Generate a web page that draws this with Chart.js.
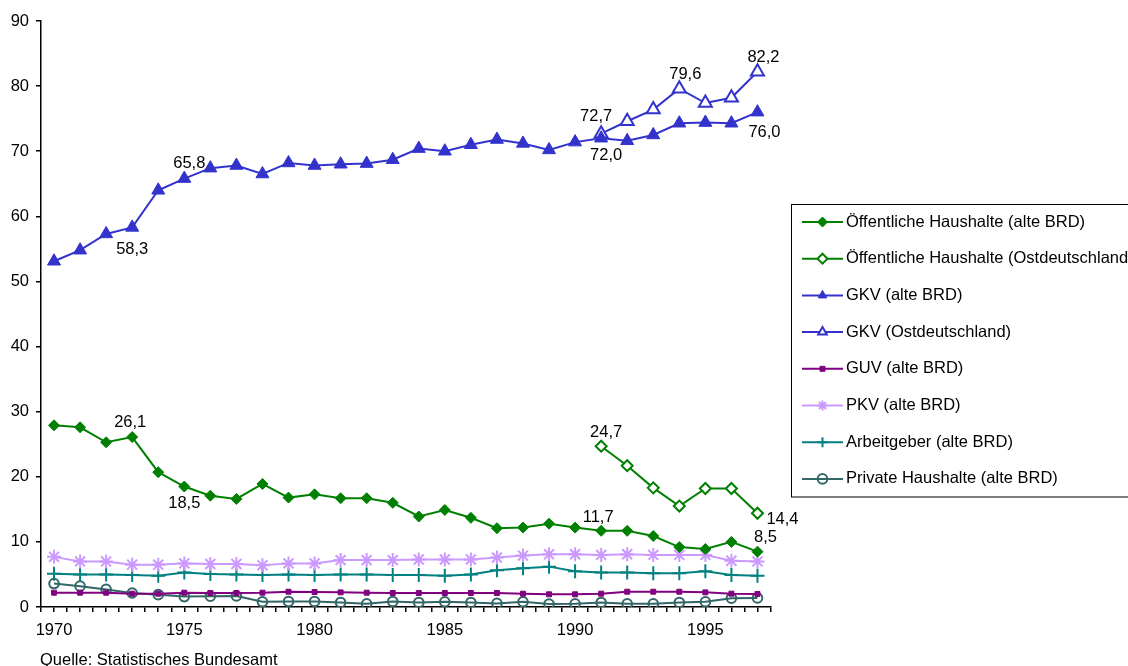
<!DOCTYPE html>
<html lang="de">
<head>
<meta charset="utf-8">
<title>Gesundheitsausgaben nach Ausgabenträgern</title>
<script src="https://cdn.jsdelivr.net/npm/chart.js@4.4.1/dist/chart.umd.min.js"></script>
<style>
  html, body { margin: 0; padding: 0; background: #ffffff; }
  #wrap { position: relative; width: 1128px; height: 666px; }
</style>
</head>
<body>
<div id="wrap"><canvas id="chart" width="1128" height="666"></canvas></div>
<script>
// Jahre (alte BRD) und Jahre (Ostdeutschland)
const years = [1970, 1971, 1972, 1973, 1974, 1975, 1976, 1977, 1978, 1979,
               1980, 1981, 1982, 1983, 1984, 1985, 1986, 1987, 1988, 1989,
               1990, 1991, 1992, 1993, 1994, 1995, 1996, 1997];
const ostYears = [1991, 1992, 1993, 1994, 1995, 1996, 1997];

// Anteile in Prozent
const oeffWest = [27.9, 27.6, 25.3, 26.1, 20.7, 18.5, 17.1, 16.6, 18.9, 16.8,
                  17.3, 16.7, 16.7, 16.0, 13.9, 14.9, 13.7, 12.1, 12.2, 12.8,
                  12.2, 11.7, 11.7, 10.9, 9.2, 8.9, 10.0, 8.5];
const oeffOst = [24.7, 21.7, 18.3, 15.5, 18.2, 18.2, 14.4];
const gkvWest = [53.1, 54.8, 57.3, 58.3, 64.0, 65.8, 67.4, 67.8, 66.5, 68.2,
                 67.8, 68.0, 68.1, 68.7, 70.4, 70.0, 71.0, 71.8, 71.2, 70.2,
                 71.4, 72.0, 71.6, 72.5, 74.3, 74.4, 74.3, 76.0];
const gkvOst = [72.7, 74.6, 76.4, 79.6, 77.4, 78.2, 82.2];
const guvWest = [2.2, 2.2, 2.2, 2.05, 2.05, 2.2, 2.15, 2.15, 2.2, 2.35,
                 2.3, 2.25, 2.2, 2.15, 2.15, 2.15, 2.15, 2.15, 2.05, 1.95,
                 1.95, 2.05, 2.35, 2.35, 2.35, 2.25, 2.05, 2.0];
const pkvWest = [7.7, 7.0, 7.0, 6.5, 6.5, 6.7, 6.6, 6.6, 6.4, 6.7,
                 6.7, 7.2, 7.2, 7.2, 7.3, 7.3, 7.3, 7.6, 7.9, 8.1,
                 8.1, 8.0, 8.1, 8.0, 8.0, 8.0, 7.1, 7.0];
const arbeitgeberWest = [5.1, 5.0, 5.0, 4.9, 4.8, 5.3, 5.05, 5.0, 4.9, 5.0,
                         4.9, 5.0, 5.0, 4.9, 4.9, 4.8, 5.0, 5.65, 5.95, 6.2,
                         5.5, 5.3, 5.3, 5.2, 5.2, 5.5, 4.9, 4.8];
const privatWest = [3.6, 3.2, 2.7, 2.15, 1.9, 1.6, 1.65, 1.7, 0.8, 0.85,
                    0.85, 0.7, 0.5, 0.85, 0.7, 0.8, 0.7, 0.55, 0.8, 0.45,
                    0.5, 0.7, 0.5, 0.5, 0.7, 0.8, 1.35, 1.4];

const seriesNames = [
  'Öffentliche Haushalte (alte BRD)',
  'Öffentliche Haushalte (Ostdeutschland)',
  'GKV (alte BRD)',
  'GKV (Ostdeutschland)',
  'GUV (alte BRD)',
  'PKV (alte BRD)',
  'Arbeitgeber (alte BRD)',
  'Private Haushalte (alte BRD)'
];

const yTicks = [0, 10, 20, 30, 40, 50, 60, 70, 80, 90];
const xLabelYears = [1970, 1975, 1980, 1985, 1990, 1995];

// Beschriftete Punkte: Reihe, Jahr, Versatz der Beschriftung
const valueLabels = [
  { ds: 2, year: 1973, dx: 0,  dy: 22 },
  { ds: 2, year: 1975, dx: 5,  dy: -15 },
  { ds: 3, year: 1991, dx: -5, dy: -17 },
  { ds: 2, year: 1991, dx: 5,  dy: 17 },
  { ds: 3, year: 1994, dx: 6,  dy: -14 },
  { ds: 3, year: 1997, dx: 6,  dy: -14 },
  { ds: 2, year: 1997, dx: 7,  dy: 20 },
  { ds: 0, year: 1973, dx: -2, dy: -15 },
  { ds: 0, year: 1975, dx: 0,  dy: 17 },
  { ds: 1, year: 1991, dx: 5,  dy: -14 },
  { ds: 0, year: 1991, dx: -3, dy: -13 },
  { ds: 1, year: 1997, dx: 25, dy: 6 },
  { ds: 0, year: 1997, dx: 8,  dy: -14 }
];

const FONT = '"Liberation Sans", Arial, sans-serif';
const FONT_SIZE = 16.5;

function toPoints(xs, ys) {
  return xs.map((x, i) => ({ x: x, y: ys[i] }));
}

function series(label, xs, ys, color, style) {
  return Object.assign({
    label: label,
    data: toPoints(xs, ys),
    borderColor: color,
    backgroundColor: color,
    borderWidth: 2,
    pointBorderColor: color,
    pointBackgroundColor: color,
    pointBorderWidth: 1,
    pointHoverRadius: 0,
    tension: 0,
    fill: false
  }, style);
}

const datasets = [
  series(seriesNames[0], years, oeffWest, '#008000', { pointStyle: 'rectRot', pointRadius: 5.5 }),
  series(seriesNames[1], ostYears, oeffOst, '#008000', { pointStyle: 'rectRot', pointRadius: 5.5, pointBackgroundColor: '#ffffff', pointBorderWidth: 2 }),
  series(seriesNames[2], years, gkvWest, '#3333CC', { pointStyle: 'triangle', pointRadius: 7.5 }),
  series(seriesNames[3], ostYears, gkvOst, '#3333CC', { pointStyle: 'triangle', pointRadius: 7.5, pointBackgroundColor: '#ffffff', pointBorderWidth: 2 }),
  series(seriesNames[4], years, guvWest, '#800080', { pointStyle: 'rect', pointRadius: 3.5 }),
  series(seriesNames[5], years, pkvWest, '#CC99FF', { pointStyle: 'star', pointRadius: 7, pointBorderWidth: 2 }),
  series(seriesNames[6], years, arbeitgeberWest, '#008080', { pointStyle: 'cross', pointRadius: 7, pointBorderWidth: 2 }),
  series(seriesNames[7], years, privatWest, '#336666', { pointStyle: 'circle', pointRadius: 4.8, pointBackgroundColor: 'rgba(0,0,0,0)', pointBorderWidth: 2 })
];

function fmt(v) {
  return v.toFixed(1).replace('.', ',');
}

// Werte an ausgewählten Punkten
const valueLabelPlugin = {
  id: 'valueLabels',
  afterDatasetsDraw(chart) {
    const ctx = chart.ctx;
    const xs = chart.scales.x, ys = chart.scales.y;
    ctx.save();
    ctx.font = FONT_SIZE + 'px ' + FONT;
    ctx.fillStyle = '#000000';
    ctx.textAlign = 'center';
    ctx.textBaseline = 'middle';
    valueLabels.forEach(l => {
      const pt = chart.data.datasets[l.ds].data.find(p => p.x === l.year);
      if (!pt) return;
      const px = xs.getPixelForValue(pt.x);
      const py = ys.getPixelForValue(pt.y);
      ctx.fillText(fmt(pt.y), px + l.dx, py + l.dy);
    });
    ctx.restore();
  }
};

// Legende im Rahmen rechts und Quellenangabe
const sideLegendPlugin = {
  id: 'sideLegend',
  afterDraw(chart) {
    const ctx = chart.ctx;
    const boxX = 791.5, boxY = 204.5, boxH = 292.5;
    ctx.save();
    ctx.strokeStyle = '#000000';
    ctx.lineWidth = 1;
    ctx.strokeRect(boxX, boxY, 400, boxH);

    ctx.font = FONT_SIZE + 'px ' + FONT;
    ctx.textBaseline = 'middle';
    ctx.textAlign = 'left';
    chart.data.datasets.forEach((ds, i) => {
      const y = 222 + i * 36.7;
      ctx.strokeStyle = ds.borderColor;
      ctx.lineWidth = 2;
      ctx.beginPath();
      ctx.moveTo(802, y);
      ctx.lineTo(843, y);
      ctx.stroke();
      const opts = {
        pointStyle: ds.pointStyle,
        radius: Math.min(ds.pointRadius, 5),
        borderWidth: ds.pointBorderWidth,
        rotation: 0
      };
      ctx.strokeStyle = ds.pointBorderColor;
      ctx.fillStyle = ds.pointBackgroundColor;
      ctx.lineWidth = ds.pointBorderWidth;
      Chart.helpers.drawPoint(ctx, opts, 822.5, y);
      ctx.fillStyle = '#000000';
      ctx.fillText(ds.label, 846, y);
    });

    ctx.fillText('Quelle: Statistisches Bundesamt', 40, 660);
    ctx.restore();
  }
};

new Chart(document.getElementById('chart'), {
  type: 'line',
  data: { datasets: datasets },
  options: {
    responsive: false,
    animation: false,
    events: [],
    layout: { padding: { top: 21, right: 357.5, bottom: 0, left: 0 } },
    plugins: {
      legend: { display: false },
      tooltip: { enabled: false },
      title: { display: false }
    },
    scales: {
      x: {
        type: 'linear',
        min: 1969.5,
        max: 1997.5,
        afterFit(scale) { scale.height = 59; },
        afterBuildTicks(scale) {
          const t = [];
          for (let v = 1969.5; v <= 1997.5 + 1e-9; v += 0.5) t.push({ value: v });
          scale.ticks = t;
        },
        border: { display: true, color: '#000000', width: 1.5 },
        grid: {
          display: true,
          drawOnChartArea: false,
          drawTicks: true,
          tickLength: 5,
          color: '#000000',
          lineWidth: 1.5
        },
        ticks: {
          autoSkip: false,
          maxRotation: 0,
          padding: 9,
          color: '#000000',
          font: { family: FONT, size: FONT_SIZE },
          callback: v => (xLabelYears.includes(v) ? String(v) : '')
        }
      },
      y: {
        min: 0,
        max: 90,
        afterFit(scale) { scale.width = 41; },
        afterBuildTicks(scale) {
          scale.ticks = yTicks.map(v => ({ value: v }));
        },
        border: { display: true, color: '#000000', width: 1.5 },
        grid: {
          display: true,
          drawOnChartArea: false,
          drawTicks: true,
          tickLength: 5,
          color: '#000000',
          lineWidth: 1.5
        },
        ticks: {
          padding: 7,
          color: '#000000',
          font: { family: FONT, size: FONT_SIZE }
        }
      }
    }
  },
  plugins: [valueLabelPlugin, sideLegendPlugin]
});
</script>
</body>
</html>
